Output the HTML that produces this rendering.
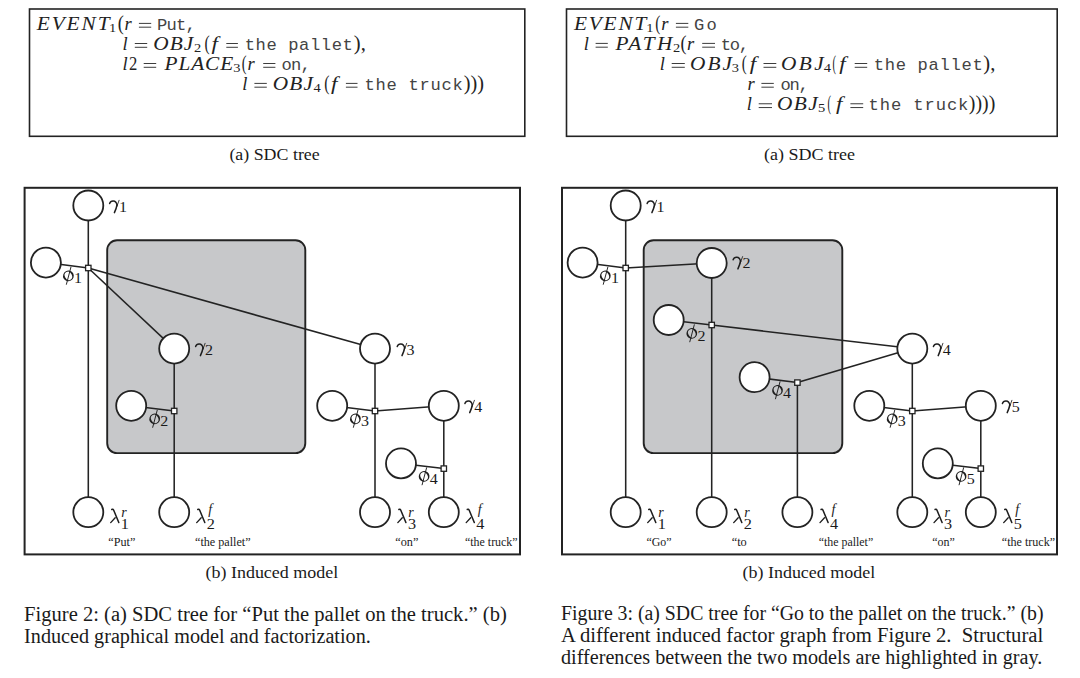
<!DOCTYPE html>
<html><head><meta charset="utf-8"><style>
html,body{margin:0;padding:0;background:#fff;width:1080px;height:678px;overflow:hidden}
svg{display:block;font-family:"Liberation Serif",serif}
</style></head><body>
<svg width="1080" height="678" viewBox="0 0 1080 678">
<rect x="29.5" y="9" width="495.29999999999995" height="127.30000000000001" fill="none" stroke="#232323" stroke-width="1.6"/>
<rect x="566.5" y="9" width="490.70000000000005" height="127.30000000000001" fill="none" stroke="#232323" stroke-width="1.6"/>
<text transform="translate(36.8,29.6) scale(1.12,1)" x="0" y="0" font-family="Liberation Serif" font-style="italic" font-size="19" fill="#222" textLength="64.91" lengthAdjust="spacing">EVENT</text>
<text transform="translate(109.0,31.8) scale(1.08,1)" font-family="Liberation Serif" font-size="13.4" fill="#222">1</text>
<text x="117.7" y="29.900000000000002" font-family="Liberation Serif" font-size="20.6" fill="#222" textLength="6.099999999999994" lengthAdjust="spacingAndGlyphs">(</text>
<text x="124.60000000000001" y="29.6" font-family="Liberation Serif" font-style="italic" font-size="18.5" fill="#222">r</text>
<rect x="138.9" y="22.900000000000002" width="12.299999999999983" height="0.95" fill="#333"/><rect x="138.9" y="26.700000000000003" width="12.299999999999983" height="0.95" fill="#333"/>
<text transform="translate(157.1,29.6) scale(1.1,1)" font-family="Liberation Mono" font-size="15.6" fill="#444" textLength="35.27" lengthAdjust="spacing">Put,</text>
<text x="122.6" y="49.7" font-family="Liberation Serif" font-style="italic" font-size="18.5" fill="#222">l</text>
<rect x="134.8" y="43.0" width="12.399999999999977" height="0.95" fill="#333"/><rect x="134.8" y="46.800000000000004" width="12.399999999999977" height="0.95" fill="#333"/>
<text transform="translate(153.2,49.7) scale(1.12,1)" x="0" y="0" font-family="Liberation Serif" font-style="italic" font-size="19" fill="#222" textLength="35.80" lengthAdjust="spacing">OBJ</text>
<text transform="translate(194.0,51.900000000000006) scale(1.08,1)" font-family="Liberation Serif" font-size="13.4" fill="#222">2</text>
<text x="204.60000000000002" y="50.0" font-family="Liberation Serif" font-size="20.6" fill="#222" textLength="5.199999999999989" lengthAdjust="spacingAndGlyphs">(</text>
<text transform="translate(211.5,49.7) scale(1.25,1)" font-family="Liberation Serif" font-style="italic" font-size="18.5" fill="#222">f</text>
<rect x="226.3" y="43.0" width="11.599999999999994" height="0.95" fill="#333"/><rect x="226.3" y="46.800000000000004" width="11.599999999999994" height="0.95" fill="#333"/>
<text transform="translate(244.70000000000002,49.7) scale(1.1,1)" font-family="Liberation Mono" font-size="15.6" fill="#444" textLength="98.36" lengthAdjust="spacing">the pallet</text>
<text x="353.8" y="50.0" font-family="Liberation Serif" font-size="20.6" fill="#222" textLength="12" lengthAdjust="spacingAndGlyphs">),</text>
<text x="122.6" y="69.7" font-family="Liberation Serif" font-style="italic" font-size="18.5" fill="#222">l</text>
<text x="129.1" y="69.7" font-family="Liberation Serif" font-size="18.5" fill="#222" textLength="8.300000000000011" lengthAdjust="spacingAndGlyphs">2</text>
<rect x="143.7" y="63.0" width="12.5" height="0.95" fill="#333"/><rect x="143.7" y="66.8" width="12.5" height="0.95" fill="#333"/>
<text transform="translate(164.5,69.7) scale(1.12,1)" x="0" y="0" font-family="Liberation Serif" font-style="italic" font-size="19" fill="#222" textLength="61.34" lengthAdjust="spacing">PLACE</text>
<text transform="translate(233.20000000000002,71.9) scale(1.08,1)" font-family="Liberation Serif" font-size="13.4" fill="#222">3</text>
<text x="241.8" y="70.0" font-family="Liberation Serif" font-size="20.6" fill="#222" textLength="4.800000000000011" lengthAdjust="spacingAndGlyphs">(</text>
<text x="247.39999999999998" y="69.7" font-family="Liberation Serif" font-style="italic" font-size="18.5" fill="#222">r</text>
<rect x="263.2" y="63.0" width="12.199999999999989" height="0.95" fill="#333"/><rect x="263.2" y="66.8" width="12.199999999999989" height="0.95" fill="#333"/>
<text transform="translate(281.59999999999997,69.7) scale(1.1,1)" font-family="Liberation Mono" font-size="15.6" fill="#444" textLength="26.45" lengthAdjust="spacing">on,</text>
<text x="242.2" y="89.6" font-family="Liberation Serif" font-style="italic" font-size="18.5" fill="#222">l</text>
<rect x="254.4" y="82.89999999999999" width="12.399999999999949" height="0.95" fill="#333"/><rect x="254.4" y="86.69999999999999" width="12.399999999999949" height="0.95" fill="#333"/>
<text transform="translate(272.79999999999995,89.6) scale(1.12,1)" x="0" y="0" font-family="Liberation Serif" font-style="italic" font-size="19" fill="#222" textLength="35.80" lengthAdjust="spacing">OBJ</text>
<text transform="translate(313.59999999999997,91.8) scale(1.08,1)" font-family="Liberation Serif" font-size="13.4" fill="#222">4</text>
<text x="324.2" y="89.89999999999999" font-family="Liberation Serif" font-size="20.6" fill="#222" textLength="5.2000000000000455" lengthAdjust="spacingAndGlyphs">(</text>
<text transform="translate(331.09999999999997,89.6) scale(1.25,1)" font-family="Liberation Serif" font-style="italic" font-size="18.5" fill="#222">f</text>
<rect x="345.9" y="82.89999999999999" width="11.600000000000023" height="0.95" fill="#333"/><rect x="345.9" y="86.69999999999999" width="11.600000000000023" height="0.95" fill="#333"/>
<text transform="translate(364.59999999999997,89.6) scale(1.1,1)" font-family="Liberation Mono" font-size="15.6" fill="#444" textLength="89.27" lengthAdjust="spacing">the truck</text>
<text x="463.8" y="89.89999999999999" font-family="Liberation Serif" font-size="20.6" fill="#222" textLength="20.30000000000001" lengthAdjust="spacingAndGlyphs">)))</text>
<text transform="translate(573.9,29.6) scale(1.12,1)" x="0" y="0" font-family="Liberation Serif" font-style="italic" font-size="19" fill="#222" textLength="64.73" lengthAdjust="spacing">EVENT</text>
<text transform="translate(646.3,31.8) scale(1.08,1)" font-family="Liberation Serif" font-size="13.4" fill="#222">1</text>
<text x="655.1999999999999" y="29.900000000000002" font-family="Liberation Serif" font-size="20.6" fill="#222" textLength="5.100000000000023" lengthAdjust="spacingAndGlyphs">(</text>
<text x="661.3000000000001" y="29.6" font-family="Liberation Serif" font-style="italic" font-size="18.5" fill="#222">r</text>
<rect x="675.9" y="22.900000000000002" width="12.399999999999977" height="0.95" fill="#333"/><rect x="675.9" y="26.700000000000003" width="12.399999999999977" height="0.95" fill="#333"/>
<text transform="translate(694.1,29.6) scale(1.1,1)" font-family="Liberation Mono" font-size="15.6" fill="#444" textLength="20.73" lengthAdjust="spacing">Go</text>
<text x="583.8" y="49.6" font-family="Liberation Serif" font-style="italic" font-size="18.5" fill="#222">l</text>
<rect x="595.6" y="42.9" width="12.199999999999932" height="0.95" fill="#333"/><rect x="595.6" y="46.7" width="12.199999999999932" height="0.95" fill="#333"/>
<text transform="translate(615.5,49.6) scale(1.12,1)" x="0" y="0" font-family="Liberation Serif" font-style="italic" font-size="19" fill="#222" textLength="50.89" lengthAdjust="spacing">PATH</text>
<text transform="translate(672.9,51.800000000000004) scale(1.08,1)" font-family="Liberation Serif" font-size="13.4" fill="#222">2</text>
<text x="680.5999999999999" y="49.9" font-family="Liberation Serif" font-size="20.6" fill="#222" textLength="6.0" lengthAdjust="spacingAndGlyphs">(</text>
<text x="687.1" y="49.6" font-family="Liberation Serif" font-style="italic" font-size="18.5" fill="#222">r</text>
<rect x="702.2" y="42.9" width="12.799999999999955" height="0.95" fill="#333"/><rect x="702.2" y="46.7" width="12.799999999999955" height="0.95" fill="#333"/>
<text transform="translate(720.8,49.6) scale(1.1,1)" font-family="Liberation Mono" font-size="15.6" fill="#444" textLength="25.73" lengthAdjust="spacing">to,</text>
<text x="659.7" y="69.7" font-family="Liberation Serif" font-style="italic" font-size="18.5" fill="#222">l</text>
<rect x="671.7" y="63.0" width="13.099999999999909" height="0.95" fill="#333"/><rect x="671.7" y="66.8" width="13.099999999999909" height="0.95" fill="#333"/>
<text transform="translate(690.1,69.7) scale(1.12,1)" x="0" y="0" font-family="Liberation Serif" font-style="italic" font-size="19" fill="#222" textLength="37.32" lengthAdjust="spacing">OBJ</text>
<text transform="translate(731.6999999999999,71.9) scale(1.08,1)" font-family="Liberation Serif" font-size="13.4" fill="#222">3</text>
<text x="741.6999999999999" y="70.0" font-family="Liberation Serif" font-size="20.6" fill="#222" textLength="5.0" lengthAdjust="spacingAndGlyphs">(</text>
<text transform="translate(749.7,69.7) scale(1.25,1)" font-family="Liberation Serif" font-style="italic" font-size="18.5" fill="#222">f</text>
<rect x="763.5" y="63.0" width="12.799999999999955" height="0.95" fill="#333"/><rect x="763.5" y="66.8" width="12.799999999999955" height="0.95" fill="#333"/>
<text transform="translate(781,69.7) scale(1.12,1)" x="0" y="0" font-family="Liberation Serif" font-style="italic" font-size="19" fill="#222" textLength="38.13" lengthAdjust="spacing">OBJ</text>
<text transform="translate(823.8,71.9) scale(1.08,1)" font-family="Liberation Serif" font-size="13.4" fill="#222">4</text>
<text x="832.5999999999999" y="70.0" font-family="Liberation Serif" font-size="20.6" fill="#222" textLength="3.5" lengthAdjust="spacingAndGlyphs">(</text>
<text transform="translate(839.3000000000001,69.7) scale(1.25,1)" font-family="Liberation Serif" font-style="italic" font-size="18.5" fill="#222">f</text>
<rect x="854.7" y="63.0" width="12.5" height="0.95" fill="#333"/><rect x="854.7" y="66.8" width="12.5" height="0.95" fill="#333"/>
<text transform="translate(873.6999999999999,69.7) scale(1.1,1)" font-family="Liberation Mono" font-size="15.6" fill="#444" textLength="99.18" lengthAdjust="spacing">the pallet</text>
<text x="983.3" y="70.0" font-family="Liberation Serif" font-size="20.6" fill="#222" textLength="12.0" lengthAdjust="spacingAndGlyphs">),</text>
<text x="747.4000000000001" y="89.6" font-family="Liberation Serif" font-style="italic" font-size="18.5" fill="#222">r</text>
<rect x="761.4" y="82.89999999999999" width="12.399999999999977" height="0.95" fill="#333"/><rect x="761.4" y="86.69999999999999" width="12.399999999999977" height="0.95" fill="#333"/>
<text transform="translate(780.4,89.6) scale(1.1,1)" font-family="Liberation Mono" font-size="15.6" fill="#444" textLength="25.91" lengthAdjust="spacing">on,</text>
<text x="746.7" y="110.0" font-family="Liberation Serif" font-style="italic" font-size="18.5" fill="#222">l</text>
<rect x="758.7" y="103.3" width="13.299999999999955" height="0.95" fill="#333"/><rect x="758.7" y="107.1" width="13.299999999999955" height="0.95" fill="#333"/>
<text transform="translate(777.1,110.0) scale(1.12,1)" x="0" y="0" font-family="Liberation Serif" font-style="italic" font-size="19" fill="#222" textLength="36.25" lengthAdjust="spacing">OBJ</text>
<text transform="translate(817.9,112.2) scale(1.08,1)" font-family="Liberation Serif" font-size="13.4" fill="#222">5</text>
<text x="827.5" y="110.3" font-family="Liberation Serif" font-size="20.6" fill="#222" textLength="3.5" lengthAdjust="spacingAndGlyphs">(</text>
<text transform="translate(835.9000000000001,110.0) scale(1.25,1)" font-family="Liberation Serif" font-style="italic" font-size="18.5" fill="#222">f</text>
<rect x="850.4" y="103.3" width="12.800000000000068" height="0.95" fill="#333"/><rect x="850.4" y="107.1" width="12.800000000000068" height="0.95" fill="#333"/>
<text transform="translate(868.6,110.0) scale(1.1,1)" font-family="Liberation Mono" font-size="15.6" fill="#444" textLength="90.73" lengthAdjust="spacing">the truck</text>
<text x="968.8" y="110.3" font-family="Liberation Serif" font-size="20.6" fill="#222" textLength="26.5" lengthAdjust="spacingAndGlyphs">))))</text>
<text x="229.4" y="159.7" font-family="Liberation Serif" font-size="17.7" font-style="normal" text-anchor="start" fill="#1a1a1a" textLength="90.29999999999998" lengthAdjust="spacingAndGlyphs">(a) SDC tree</text>
<text x="764" y="159.7" font-family="Liberation Serif" font-size="17.7" font-style="normal" text-anchor="start" fill="#1a1a1a" textLength="91" lengthAdjust="spacingAndGlyphs">(a) SDC tree</text>
<rect x="24.6" y="187.8" width="495.4" height="366.59999999999997" fill="none" stroke="#232323" stroke-width="2.0"/>
<rect x="562" y="187.8" width="495" height="366.59999999999997" fill="none" stroke="#232323" stroke-width="2.0"/>
<rect x="107.2" y="240.3" width="198.10000000000002" height="212.8" rx="9.8" fill="#c7c8ca" stroke="#232323" stroke-width="1.9"/>
<line x1="88.3" y1="205.5" x2="88.3" y2="512.2" stroke="#232323" stroke-width="1.55"/>
<line x1="45.9" y1="262.6" x2="88.3" y2="268" stroke="#232323" stroke-width="1.55"/>
<line x1="88.3" y1="268" x2="174.2" y2="348.6" stroke="#232323" stroke-width="1.55"/>
<line x1="88.3" y1="268" x2="375" y2="348.6" stroke="#232323" stroke-width="1.55"/>
<line x1="174.2" y1="348.6" x2="174.2" y2="512.2" stroke="#232323" stroke-width="1.55"/>
<line x1="131.2" y1="405.8" x2="174.2" y2="411" stroke="#232323" stroke-width="1.55"/>
<line x1="375" y1="348.6" x2="375" y2="512.2" stroke="#232323" stroke-width="1.55"/>
<line x1="332.2" y1="405.8" x2="375" y2="411" stroke="#232323" stroke-width="1.55"/>
<line x1="375" y1="411" x2="443.8" y2="405.8" stroke="#232323" stroke-width="1.55"/>
<line x1="443.8" y1="405.8" x2="443.8" y2="512.2" stroke="#232323" stroke-width="1.55"/>
<line x1="401" y1="463.4" x2="443.8" y2="468.6" stroke="#232323" stroke-width="1.55"/>
<circle cx="88.3" cy="205.5" r="15.0" fill="#fff" stroke="#232323" stroke-width="1.8"/>
<circle cx="45.9" cy="262.6" r="15.0" fill="#fff" stroke="#232323" stroke-width="1.8"/>
<circle cx="174.2" cy="348.6" r="15.0" fill="#fff" stroke="#232323" stroke-width="1.8"/>
<circle cx="131.2" cy="405.8" r="15.0" fill="#fff" stroke="#232323" stroke-width="1.8"/>
<circle cx="375" cy="348.6" r="15.0" fill="#fff" stroke="#232323" stroke-width="1.8"/>
<circle cx="332.2" cy="405.8" r="15.0" fill="#fff" stroke="#232323" stroke-width="1.8"/>
<circle cx="443.8" cy="405.8" r="15.0" fill="#fff" stroke="#232323" stroke-width="1.8"/>
<circle cx="401" cy="463.4" r="15.0" fill="#fff" stroke="#232323" stroke-width="1.8"/>
<circle cx="88.3" cy="512.2" r="15.0" fill="#fff" stroke="#232323" stroke-width="1.8"/>
<circle cx="174.2" cy="512.2" r="15.0" fill="#fff" stroke="#232323" stroke-width="1.8"/>
<circle cx="375" cy="512.2" r="15.0" fill="#fff" stroke="#232323" stroke-width="1.8"/>
<circle cx="443.8" cy="512.2" r="15.0" fill="#fff" stroke="#232323" stroke-width="1.8"/>
<rect x="85.6" y="265.3" width="5.4" height="5.4" fill="#fff" stroke="#232323" stroke-width="1.3"/>
<rect x="171.5" y="408.3" width="5.4" height="5.4" fill="#fff" stroke="#232323" stroke-width="1.3"/>
<rect x="372.3" y="408.3" width="5.4" height="5.4" fill="#fff" stroke="#232323" stroke-width="1.3"/>
<rect x="441.1" y="465.90000000000003" width="5.4" height="5.4" fill="#fff" stroke="#232323" stroke-width="1.3"/>
<g transform="translate(109.3,200.0)" fill="none" stroke="#1e1e1e" stroke-linecap="round"><path d="M0.3,3.5 C0.9,1.7 2.4,0.9 4.0,1.0 C6.0,1.1 7.3,2.6 7.8,5.0" stroke-width="1.45"/><path d="M7.7,4.8 C7.3,7.6 6.0,10.6 5.1,12.6" stroke-width="1.5"/><path d="M9.8,0.3 L7.3,7.2" stroke-width="0.85"/></g>
<text transform="translate(118.89999999999999,211.9) scale(1.13,1)" font-family="Liberation Serif" font-size="14.2" fill="#1a1a1a">1</text>
<g transform="translate(63.0,280.5)" fill="none" stroke="#1e1e1e"><path d="M0,-4.6 a5.4,5.25 0 1,0 10.8,0 a5.4,5.25 0 1,0 -10.8,0 Z M1.85,-4.6 a3.55,4.3 0 1,0 7.1,0 a3.55,4.3 0 1,0 -7.1,0 Z" fill="#1e1e1e" stroke="none" fill-rule="evenodd" transform="rotate(-28 5.4 -4.6)"/><path d="M8.0,-13.6 L3.3,4.2" stroke-width="0.95"/></g>
<text transform="translate(74.0,283.2) scale(1.13,1)" font-family="Liberation Serif" font-size="14.2" fill="#1a1a1a">1</text>
<g transform="translate(195.3,343.0)" fill="none" stroke="#1e1e1e" stroke-linecap="round"><path d="M0.3,3.5 C0.9,1.7 2.4,0.9 4.0,1.0 C6.0,1.1 7.3,2.6 7.8,5.0" stroke-width="1.45"/><path d="M7.7,4.8 C7.3,7.6 6.0,10.6 5.1,12.6" stroke-width="1.5"/><path d="M9.8,0.3 L7.3,7.2" stroke-width="0.85"/></g>
<text transform="translate(204.9,354.90000000000003) scale(1.13,1)" font-family="Liberation Serif" font-size="14.2" fill="#1a1a1a">2</text>
<g transform="translate(149.3,423.5)" fill="none" stroke="#1e1e1e"><path d="M0,-4.6 a5.4,5.25 0 1,0 10.8,0 a5.4,5.25 0 1,0 -10.8,0 Z M1.85,-4.6 a3.55,4.3 0 1,0 7.1,0 a3.55,4.3 0 1,0 -7.1,0 Z" fill="#1e1e1e" stroke="none" fill-rule="evenodd" transform="rotate(-28 5.4 -4.6)"/><path d="M8.0,-13.6 L3.3,4.2" stroke-width="0.95"/></g>
<text transform="translate(160.3,426.2) scale(1.13,1)" font-family="Liberation Serif" font-size="14.2" fill="#1a1a1a">2</text>
<g transform="translate(396.90000000000003,343.0)" fill="none" stroke="#1e1e1e" stroke-linecap="round"><path d="M0.3,3.5 C0.9,1.7 2.4,0.9 4.0,1.0 C6.0,1.1 7.3,2.6 7.8,5.0" stroke-width="1.45"/><path d="M7.7,4.8 C7.3,7.6 6.0,10.6 5.1,12.6" stroke-width="1.5"/><path d="M9.8,0.3 L7.3,7.2" stroke-width="0.85"/></g>
<text transform="translate(406.50000000000006,354.90000000000003) scale(1.13,1)" font-family="Liberation Serif" font-size="14.2" fill="#1a1a1a">3</text>
<g transform="translate(350.0,423.5)" fill="none" stroke="#1e1e1e"><path d="M0,-4.6 a5.4,5.25 0 1,0 10.8,0 a5.4,5.25 0 1,0 -10.8,0 Z M1.85,-4.6 a3.55,4.3 0 1,0 7.1,0 a3.55,4.3 0 1,0 -7.1,0 Z" fill="#1e1e1e" stroke="none" fill-rule="evenodd" transform="rotate(-28 5.4 -4.6)"/><path d="M8.0,-13.6 L3.3,4.2" stroke-width="0.95"/></g>
<text transform="translate(361.0,426.2) scale(1.13,1)" font-family="Liberation Serif" font-size="14.2" fill="#1a1a1a">3</text>
<g transform="translate(464.6,400.0)" fill="none" stroke="#1e1e1e" stroke-linecap="round"><path d="M0.3,3.5 C0.9,1.7 2.4,0.9 4.0,1.0 C6.0,1.1 7.3,2.6 7.8,5.0" stroke-width="1.45"/><path d="M7.7,4.8 C7.3,7.6 6.0,10.6 5.1,12.6" stroke-width="1.5"/><path d="M9.8,0.3 L7.3,7.2" stroke-width="0.85"/></g>
<text transform="translate(474.20000000000005,411.90000000000003) scale(1.13,1)" font-family="Liberation Serif" font-size="14.2" fill="#1a1a1a">4</text>
<g transform="translate(418.7,481.0)" fill="none" stroke="#1e1e1e"><path d="M0,-4.6 a5.4,5.25 0 1,0 10.8,0 a5.4,5.25 0 1,0 -10.8,0 Z M1.85,-4.6 a3.55,4.3 0 1,0 7.1,0 a3.55,4.3 0 1,0 -7.1,0 Z" fill="#1e1e1e" stroke="none" fill-rule="evenodd" transform="rotate(-28 5.4 -4.6)"/><path d="M8.0,-13.6 L3.3,4.2" stroke-width="0.95"/></g>
<text transform="translate(429.7,483.7) scale(1.13,1)" font-family="Liberation Serif" font-size="14.2" fill="#1a1a1a">4</text>
<g transform="translate(110.2,523.1)" fill="none" stroke="#1e1e1e" stroke-linecap="round"><path d="M1.6,-13.6 C2.2,-14.0 3.0,-13.9 3.5,-12.8 L8.6,-0.6" stroke-width="1.55"/><path d="M5.0,-5.4 L0.5,-0.5" stroke-width="1.35"/></g>
<text x="121.2" y="517.3" font-family="Liberation Serif" font-size="14" font-style="italic" fill="#1a1a1a">r</text>
<text transform="translate(120.8,529.0) scale(1.12,1)" font-family="Liberation Serif" font-size="14.5" fill="#1a1a1a">1</text>
<g transform="translate(196.2,523.1)" fill="none" stroke="#1e1e1e" stroke-linecap="round"><path d="M1.6,-13.6 C2.2,-14.0 3.0,-13.9 3.5,-12.8 L8.6,-0.6" stroke-width="1.55"/><path d="M5.0,-5.4 L0.5,-0.5" stroke-width="1.35"/></g>
<text x="208.2" y="513.6" font-family="Liberation Serif" font-size="14" font-style="italic" fill="#1a1a1a">f</text>
<text transform="translate(206.79999999999998,529.0) scale(1.12,1)" font-family="Liberation Serif" font-size="14.5" fill="#1a1a1a">2</text>
<g transform="translate(397.3,523.1)" fill="none" stroke="#1e1e1e" stroke-linecap="round"><path d="M1.6,-13.6 C2.2,-14.0 3.0,-13.9 3.5,-12.8 L8.6,-0.6" stroke-width="1.55"/><path d="M5.0,-5.4 L0.5,-0.5" stroke-width="1.35"/></g>
<text x="408.3" y="517.3" font-family="Liberation Serif" font-size="14" font-style="italic" fill="#1a1a1a">r</text>
<text transform="translate(407.90000000000003,529.0) scale(1.12,1)" font-family="Liberation Serif" font-size="14.5" fill="#1a1a1a">3</text>
<g transform="translate(465.7,523.1)" fill="none" stroke="#1e1e1e" stroke-linecap="round"><path d="M1.6,-13.6 C2.2,-14.0 3.0,-13.9 3.5,-12.8 L8.6,-0.6" stroke-width="1.55"/><path d="M5.0,-5.4 L0.5,-0.5" stroke-width="1.35"/></g>
<text x="477.7" y="513.6" font-family="Liberation Serif" font-size="14" font-style="italic" fill="#1a1a1a">f</text>
<text transform="translate(476.3,529.0) scale(1.12,1)" font-family="Liberation Serif" font-size="14.5" fill="#1a1a1a">4</text>
<text x="108.3" y="546.2" font-family="Liberation Serif" font-size="11.5" font-style="normal" text-anchor="start" fill="#1a1a1a" textLength="27.000000000000014" lengthAdjust="spacingAndGlyphs">“Put”</text>
<text x="195" y="546.2" font-family="Liberation Serif" font-size="11.5" font-style="normal" text-anchor="start" fill="#1a1a1a" textLength="55.599999999999994" lengthAdjust="spacingAndGlyphs">“the pallet”</text>
<text x="395.3" y="546.2" font-family="Liberation Serif" font-size="11.5" font-style="normal" text-anchor="start" fill="#1a1a1a" textLength="23.099999999999966" lengthAdjust="spacingAndGlyphs">“on”</text>
<text x="465" y="546.2" font-family="Liberation Serif" font-size="11.5" font-style="normal" text-anchor="start" fill="#1a1a1a" textLength="52.60000000000002" lengthAdjust="spacingAndGlyphs">“the truck”</text>
<rect x="643.7" y="240.3" width="198.5999999999999" height="212.8" rx="9.8" fill="#c7c8ca" stroke="#232323" stroke-width="1.9"/>
<line x1="625.7" y1="205.5" x2="625.7" y2="512.2" stroke="#232323" stroke-width="1.55"/>
<line x1="582.6" y1="262.6" x2="625.7" y2="268" stroke="#232323" stroke-width="1.55"/>
<line x1="625.7" y1="268" x2="711.7" y2="263" stroke="#232323" stroke-width="1.55"/>
<line x1="711.7" y1="263" x2="711.7" y2="512.2" stroke="#232323" stroke-width="1.55"/>
<line x1="668.7" y1="320" x2="711.7" y2="325" stroke="#232323" stroke-width="1.55"/>
<line x1="711.7" y1="325" x2="912.3" y2="348.6" stroke="#232323" stroke-width="1.55"/>
<line x1="754.6" y1="377.2" x2="797.4" y2="382.6" stroke="#232323" stroke-width="1.55"/>
<line x1="797.4" y1="382.6" x2="912.3" y2="348.6" stroke="#232323" stroke-width="1.55"/>
<line x1="797.4" y1="382.6" x2="797.4" y2="512.2" stroke="#232323" stroke-width="1.55"/>
<line x1="912.3" y1="348.6" x2="912.3" y2="512.2" stroke="#232323" stroke-width="1.55"/>
<line x1="869.3" y1="405.8" x2="912.3" y2="411" stroke="#232323" stroke-width="1.55"/>
<line x1="912.3" y1="411" x2="980.8" y2="405.8" stroke="#232323" stroke-width="1.55"/>
<line x1="980.8" y1="405.8" x2="980.8" y2="512.2" stroke="#232323" stroke-width="1.55"/>
<line x1="937.8" y1="463.4" x2="980.8" y2="468.6" stroke="#232323" stroke-width="1.55"/>
<circle cx="625.7" cy="205.5" r="15.0" fill="#fff" stroke="#232323" stroke-width="1.8"/>
<circle cx="582.6" cy="262.6" r="15.0" fill="#fff" stroke="#232323" stroke-width="1.8"/>
<circle cx="711.7" cy="263" r="15.0" fill="#fff" stroke="#232323" stroke-width="1.8"/>
<circle cx="668.7" cy="320" r="15.0" fill="#fff" stroke="#232323" stroke-width="1.8"/>
<circle cx="912.3" cy="348.6" r="15.0" fill="#fff" stroke="#232323" stroke-width="1.8"/>
<circle cx="754.6" cy="377.2" r="15.0" fill="#fff" stroke="#232323" stroke-width="1.8"/>
<circle cx="869.3" cy="405.8" r="15.0" fill="#fff" stroke="#232323" stroke-width="1.8"/>
<circle cx="980.8" cy="405.8" r="15.0" fill="#fff" stroke="#232323" stroke-width="1.8"/>
<circle cx="937.8" cy="463.4" r="15.0" fill="#fff" stroke="#232323" stroke-width="1.8"/>
<circle cx="625.7" cy="512.2" r="15.0" fill="#fff" stroke="#232323" stroke-width="1.8"/>
<circle cx="711.7" cy="512.2" r="15.0" fill="#fff" stroke="#232323" stroke-width="1.8"/>
<circle cx="797.4" cy="512.2" r="15.0" fill="#fff" stroke="#232323" stroke-width="1.8"/>
<circle cx="912.3" cy="512.2" r="15.0" fill="#fff" stroke="#232323" stroke-width="1.8"/>
<circle cx="980.8" cy="512.2" r="15.0" fill="#fff" stroke="#232323" stroke-width="1.8"/>
<rect x="623.0" y="265.3" width="5.4" height="5.4" fill="#fff" stroke="#232323" stroke-width="1.3"/>
<rect x="709.0" y="322.3" width="5.4" height="5.4" fill="#fff" stroke="#232323" stroke-width="1.3"/>
<rect x="794.6999999999999" y="379.90000000000003" width="5.4" height="5.4" fill="#fff" stroke="#232323" stroke-width="1.3"/>
<rect x="909.5999999999999" y="408.3" width="5.4" height="5.4" fill="#fff" stroke="#232323" stroke-width="1.3"/>
<rect x="978.0999999999999" y="465.90000000000003" width="5.4" height="5.4" fill="#fff" stroke="#232323" stroke-width="1.3"/>
<g transform="translate(646.8,200.0)" fill="none" stroke="#1e1e1e" stroke-linecap="round"><path d="M0.3,3.5 C0.9,1.7 2.4,0.9 4.0,1.0 C6.0,1.1 7.3,2.6 7.8,5.0" stroke-width="1.45"/><path d="M7.7,4.8 C7.3,7.6 6.0,10.6 5.1,12.6" stroke-width="1.5"/><path d="M9.8,0.3 L7.3,7.2" stroke-width="0.85"/></g>
<text transform="translate(656.4,211.9) scale(1.13,1)" font-family="Liberation Serif" font-size="14.2" fill="#1a1a1a">1</text>
<g transform="translate(599.9,280.5)" fill="none" stroke="#1e1e1e"><path d="M0,-4.6 a5.4,5.25 0 1,0 10.8,0 a5.4,5.25 0 1,0 -10.8,0 Z M1.85,-4.6 a3.55,4.3 0 1,0 7.1,0 a3.55,4.3 0 1,0 -7.1,0 Z" fill="#1e1e1e" stroke="none" fill-rule="evenodd" transform="rotate(-28 5.4 -4.6)"/><path d="M8.0,-13.6 L3.3,4.2" stroke-width="0.95"/></g>
<text transform="translate(610.9,283.2) scale(1.13,1)" font-family="Liberation Serif" font-size="14.2" fill="#1a1a1a">1</text>
<g transform="translate(732.8,256.3)" fill="none" stroke="#1e1e1e" stroke-linecap="round"><path d="M0.3,3.5 C0.9,1.7 2.4,0.9 4.0,1.0 C6.0,1.1 7.3,2.6 7.8,5.0" stroke-width="1.45"/><path d="M7.7,4.8 C7.3,7.6 6.0,10.6 5.1,12.6" stroke-width="1.5"/><path d="M9.8,0.3 L7.3,7.2" stroke-width="0.85"/></g>
<text transform="translate(742.4,268.20000000000005) scale(1.13,1)" font-family="Liberation Serif" font-size="14.2" fill="#1a1a1a">2</text>
<g transform="translate(686.4,338)" fill="none" stroke="#1e1e1e"><path d="M0,-4.6 a5.4,5.25 0 1,0 10.8,0 a5.4,5.25 0 1,0 -10.8,0 Z M1.85,-4.6 a3.55,4.3 0 1,0 7.1,0 a3.55,4.3 0 1,0 -7.1,0 Z" fill="#1e1e1e" stroke="none" fill-rule="evenodd" transform="rotate(-28 5.4 -4.6)"/><path d="M8.0,-13.6 L3.3,4.2" stroke-width="0.95"/></g>
<text transform="translate(697.4,340.7) scale(1.13,1)" font-family="Liberation Serif" font-size="14.2" fill="#1a1a1a">2</text>
<g transform="translate(772.0999999999999,395)" fill="none" stroke="#1e1e1e"><path d="M0,-4.6 a5.4,5.25 0 1,0 10.8,0 a5.4,5.25 0 1,0 -10.8,0 Z M1.85,-4.6 a3.55,4.3 0 1,0 7.1,0 a3.55,4.3 0 1,0 -7.1,0 Z" fill="#1e1e1e" stroke="none" fill-rule="evenodd" transform="rotate(-28 5.4 -4.6)"/><path d="M8.0,-13.6 L3.3,4.2" stroke-width="0.95"/></g>
<text transform="translate(783.0999999999999,397.7) scale(1.13,1)" font-family="Liberation Serif" font-size="14.2" fill="#1a1a1a">4</text>
<g transform="translate(933.0999999999999,343.0)" fill="none" stroke="#1e1e1e" stroke-linecap="round"><path d="M0.3,3.5 C0.9,1.7 2.4,0.9 4.0,1.0 C6.0,1.1 7.3,2.6 7.8,5.0" stroke-width="1.45"/><path d="M7.7,4.8 C7.3,7.6 6.0,10.6 5.1,12.6" stroke-width="1.5"/><path d="M9.8,0.3 L7.3,7.2" stroke-width="0.85"/></g>
<text transform="translate(942.6999999999999,354.90000000000003) scale(1.13,1)" font-family="Liberation Serif" font-size="14.2" fill="#1a1a1a">4</text>
<g transform="translate(886.8,423.5)" fill="none" stroke="#1e1e1e"><path d="M0,-4.6 a5.4,5.25 0 1,0 10.8,0 a5.4,5.25 0 1,0 -10.8,0 Z M1.85,-4.6 a3.55,4.3 0 1,0 7.1,0 a3.55,4.3 0 1,0 -7.1,0 Z" fill="#1e1e1e" stroke="none" fill-rule="evenodd" transform="rotate(-28 5.4 -4.6)"/><path d="M8.0,-13.6 L3.3,4.2" stroke-width="0.95"/></g>
<text transform="translate(897.8,426.2) scale(1.13,1)" font-family="Liberation Serif" font-size="14.2" fill="#1a1a1a">3</text>
<g transform="translate(1002.0999999999999,400.0)" fill="none" stroke="#1e1e1e" stroke-linecap="round"><path d="M0.3,3.5 C0.9,1.7 2.4,0.9 4.0,1.0 C6.0,1.1 7.3,2.6 7.8,5.0" stroke-width="1.45"/><path d="M7.7,4.8 C7.3,7.6 6.0,10.6 5.1,12.6" stroke-width="1.5"/><path d="M9.8,0.3 L7.3,7.2" stroke-width="0.85"/></g>
<text transform="translate(1011.6999999999999,411.90000000000003) scale(1.13,1)" font-family="Liberation Serif" font-size="14.2" fill="#1a1a1a">5</text>
<g transform="translate(955.6999999999999,481.0)" fill="none" stroke="#1e1e1e"><path d="M0,-4.6 a5.4,5.25 0 1,0 10.8,0 a5.4,5.25 0 1,0 -10.8,0 Z M1.85,-4.6 a3.55,4.3 0 1,0 7.1,0 a3.55,4.3 0 1,0 -7.1,0 Z" fill="#1e1e1e" stroke="none" fill-rule="evenodd" transform="rotate(-28 5.4 -4.6)"/><path d="M8.0,-13.6 L3.3,4.2" stroke-width="0.95"/></g>
<text transform="translate(966.6999999999999,483.7) scale(1.13,1)" font-family="Liberation Serif" font-size="14.2" fill="#1a1a1a">5</text>
<g transform="translate(647.2,523.1)" fill="none" stroke="#1e1e1e" stroke-linecap="round"><path d="M1.6,-13.6 C2.2,-14.0 3.0,-13.9 3.5,-12.8 L8.6,-0.6" stroke-width="1.55"/><path d="M5.0,-5.4 L0.5,-0.5" stroke-width="1.35"/></g>
<text x="658.2" y="517.3" font-family="Liberation Serif" font-size="14" font-style="italic" fill="#1a1a1a">r</text>
<text transform="translate(657.8000000000001,529.0) scale(1.12,1)" font-family="Liberation Serif" font-size="14.5" fill="#1a1a1a">1</text>
<g transform="translate(733.2,523.1)" fill="none" stroke="#1e1e1e" stroke-linecap="round"><path d="M1.6,-13.6 C2.2,-14.0 3.0,-13.9 3.5,-12.8 L8.6,-0.6" stroke-width="1.55"/><path d="M5.0,-5.4 L0.5,-0.5" stroke-width="1.35"/></g>
<text x="744.2" y="517.3" font-family="Liberation Serif" font-size="14" font-style="italic" fill="#1a1a1a">r</text>
<text transform="translate(743.8000000000001,529.0) scale(1.12,1)" font-family="Liberation Serif" font-size="14.5" fill="#1a1a1a">2</text>
<g transform="translate(819.5,523.1)" fill="none" stroke="#1e1e1e" stroke-linecap="round"><path d="M1.6,-13.6 C2.2,-14.0 3.0,-13.9 3.5,-12.8 L8.6,-0.6" stroke-width="1.55"/><path d="M5.0,-5.4 L0.5,-0.5" stroke-width="1.35"/></g>
<text x="831.5" y="513.6" font-family="Liberation Serif" font-size="14" font-style="italic" fill="#1a1a1a">f</text>
<text transform="translate(830.1,529.0) scale(1.12,1)" font-family="Liberation Serif" font-size="14.5" fill="#1a1a1a">4</text>
<g transform="translate(933.5,523.1)" fill="none" stroke="#1e1e1e" stroke-linecap="round"><path d="M1.6,-13.6 C2.2,-14.0 3.0,-13.9 3.5,-12.8 L8.6,-0.6" stroke-width="1.55"/><path d="M5.0,-5.4 L0.5,-0.5" stroke-width="1.35"/></g>
<text x="944.5" y="517.3" font-family="Liberation Serif" font-size="14" font-style="italic" fill="#1a1a1a">r</text>
<text transform="translate(944.1,529.0) scale(1.12,1)" font-family="Liberation Serif" font-size="14.5" fill="#1a1a1a">3</text>
<g transform="translate(1003.2,523.1)" fill="none" stroke="#1e1e1e" stroke-linecap="round"><path d="M1.6,-13.6 C2.2,-14.0 3.0,-13.9 3.5,-12.8 L8.6,-0.6" stroke-width="1.55"/><path d="M5.0,-5.4 L0.5,-0.5" stroke-width="1.35"/></g>
<text x="1015.2" y="513.6" font-family="Liberation Serif" font-size="14" font-style="italic" fill="#1a1a1a">f</text>
<text transform="translate(1013.8000000000001,529.0) scale(1.12,1)" font-family="Liberation Serif" font-size="14.5" fill="#1a1a1a">5</text>
<text x="646.5" y="546.2" font-family="Liberation Serif" font-size="11.5" font-style="normal" text-anchor="start" fill="#1a1a1a" textLength="25.100000000000023" lengthAdjust="spacingAndGlyphs">“Go”</text>
<text x="731.7" y="546.2" font-family="Liberation Serif" font-size="11.5" font-style="normal" text-anchor="start" fill="#1a1a1a" textLength="15.099999999999909" lengthAdjust="spacingAndGlyphs">“to</text>
<text x="818.8" y="546.2" font-family="Liberation Serif" font-size="11.5" font-style="normal" text-anchor="start" fill="#1a1a1a" textLength="54.40000000000009" lengthAdjust="spacingAndGlyphs">“the pallet”</text>
<text x="932.3" y="546.2" font-family="Liberation Serif" font-size="11.5" font-style="normal" text-anchor="start" fill="#1a1a1a" textLength="22.600000000000023" lengthAdjust="spacingAndGlyphs">“on”</text>
<text x="1001.8" y="546.2" font-family="Liberation Serif" font-size="11.5" font-style="normal" text-anchor="start" fill="#1a1a1a" textLength="53.299999999999955" lengthAdjust="spacingAndGlyphs">“the truck”</text>
<text x="205.5" y="577.9" font-family="Liberation Serif" font-size="17.7" font-style="normal" text-anchor="start" fill="#1a1a1a" textLength="132.7" lengthAdjust="spacingAndGlyphs">(b) Induced model</text>
<text x="742.5" y="577.9" font-family="Liberation Serif" font-size="17.7" font-style="normal" text-anchor="start" fill="#1a1a1a" textLength="132.70000000000005" lengthAdjust="spacingAndGlyphs">(b) Induced model</text>
<text x="24.1" y="620.5" font-family="Liberation Serif" font-size="20" font-style="normal" text-anchor="start" fill="#1a1a1a" textLength="482.7" lengthAdjust="spacingAndGlyphs">Figure 2: (a) SDC tree for “Put the pallet on the truck.” (b)</text>
<text x="24.1" y="643.3" font-family="Liberation Serif" font-size="20" font-style="normal" text-anchor="start" fill="#1a1a1a" textLength="346.7" lengthAdjust="spacingAndGlyphs">Induced graphical model and factorization.</text>
<text x="561" y="620" font-family="Liberation Serif" font-size="20" font-style="normal" text-anchor="start" fill="#1a1a1a" textLength="482.5" lengthAdjust="spacingAndGlyphs">Figure 3: (a) SDC tree for “Go to the pallet on the truck.” (b)</text>
<text x="561" y="642.0" font-family="Liberation Serif" font-size="20" font-style="normal" text-anchor="start" fill="#1a1a1a" textLength="482.20000000000005" lengthAdjust="spacingAndGlyphs" xml:space="preserve">A different induced factor graph from Figure 2.  Structural</text>
<text x="561" y="663.6" font-family="Liberation Serif" font-size="20" font-style="normal" text-anchor="start" fill="#1a1a1a" textLength="481.20000000000005" lengthAdjust="spacingAndGlyphs">differences between the two models are highlighted in gray.</text>
</svg></body></html>
